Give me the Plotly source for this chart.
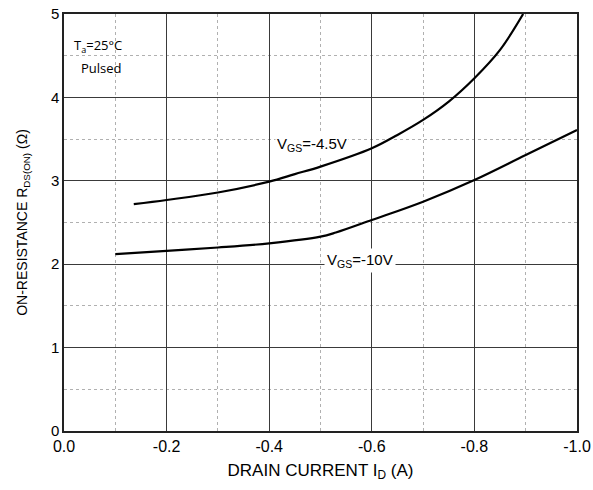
import plotly.graph_objects as go

# Data
id_45 = [-0.136, -0.2, -0.3, -0.4, -0.45, -0.5, -0.6, -0.65, -0.7, -0.75, -0.8, -0.85, -0.895]
r_45 = [2.72, 2.77, 2.86, 2.99, 3.08, 3.17, 3.39, 3.55, 3.73, 3.95, 4.23, 4.57, 5.0]
id_10 = [-0.1, -0.2, -0.3, -0.4, -0.5, -0.53, -0.6, -0.7, -0.8, -0.9, -1.0]
r_10 = [2.12, 2.16, 2.20, 2.25, 2.33, 2.38, 2.53, 2.75, 3.01, 3.31, 3.61]

x_tickvals = [0.0, -0.2, -0.4, -0.6, -0.8, -1.0]
x_ticktext = ["0.0", "-0.2", "-0.4", "-0.6", "-0.8", "-1.0"]
y_tickvals = [0, 1, 2, 3, 4, 5]
y_ticktext = ["0", "1", "2", "3", "4", "5"]

FONT = "Liberation Sans, Arial, sans-serif"

fig = go.Figure()
for xs, ys in [(id_45, r_45), (id_10, r_10)]:
    fig.add_trace(go.Scatter(x=xs, y=ys, mode="lines",
                             line=dict(color="black", width=2.2, shape="spline", smoothing=1.0),
                             showlegend=False, hoverinfo="skip"))

fig.update_layout(
    width=593, height=490,
    margin=dict(l=64, r=16, t=14, b=59),
    paper_bgcolor="white", plot_bgcolor="white",
    font=dict(family=FONT, color="black"),
)
fig.update_xaxes(
    range=[0, -1.0], tickvals=x_tickvals, ticktext=x_ticktext,
    tickfont=dict(size=16), ticks="", showline=True, mirror=True,
    linecolor="#222", linewidth=1.5, automargin=False,
    showgrid=True, gridcolor="#3a3a3a", gridwidth=1.4, zeroline=False,
    minor=dict(dtick=0.1, showgrid=True, gridcolor="#b0b0b0", griddash="dot", gridwidth=1),
    title=dict(text="DRAIN CURRENT I<sub>D</sub> (A)", font=dict(size=17), standoff=10),
)
fig.update_yaxes(
    range=[0, 5], tickvals=y_tickvals, ticktext=y_ticktext,
    tickfont=dict(size=15), ticks="", showline=True, mirror=True,
    linecolor="#222", linewidth=1.5, automargin=False,
    showgrid=True, gridcolor="#3a3a3a", gridwidth=1.4, zeroline=False,
    minor=dict(dtick=0.5, showgrid=True, gridcolor="#b0b0b0", griddash="dot", gridwidth=1),
    title=dict(text="ON-RESISTANCE R<sub>DS(ON)</sub> (Ω)", font=dict(size=14), standoff=20),
)

fig.add_annotation(x=-0.0156, y=4.62, xref="x", yref="y", text="T<sub>a</sub>=25°C",
                   showarrow=False, xanchor="left", font=dict(size=13, family="Open Sans"))
fig.add_annotation(x=-0.029, y=4.35, xref="x", yref="y", text="Pulsed",
                   showarrow=False, xanchor="left", font=dict(size=13, family="Open Sans"))
fig.add_annotation(x=-0.411, y=3.43, xref="x", yref="y", text="V<sub>GS</sub>=-4.5V",
                   showarrow=False, xanchor="left", font=dict(size=15), bgcolor="white",
                   borderpad=1)
fig.add_annotation(x=-0.506, y=2.04, xref="x", yref="y", text="V<sub>GS</sub>=-10V",
                   showarrow=False, xanchor="left", font=dict(size=15), bgcolor="white",
                   borderpad=2)

fig.write_html("out.html")
